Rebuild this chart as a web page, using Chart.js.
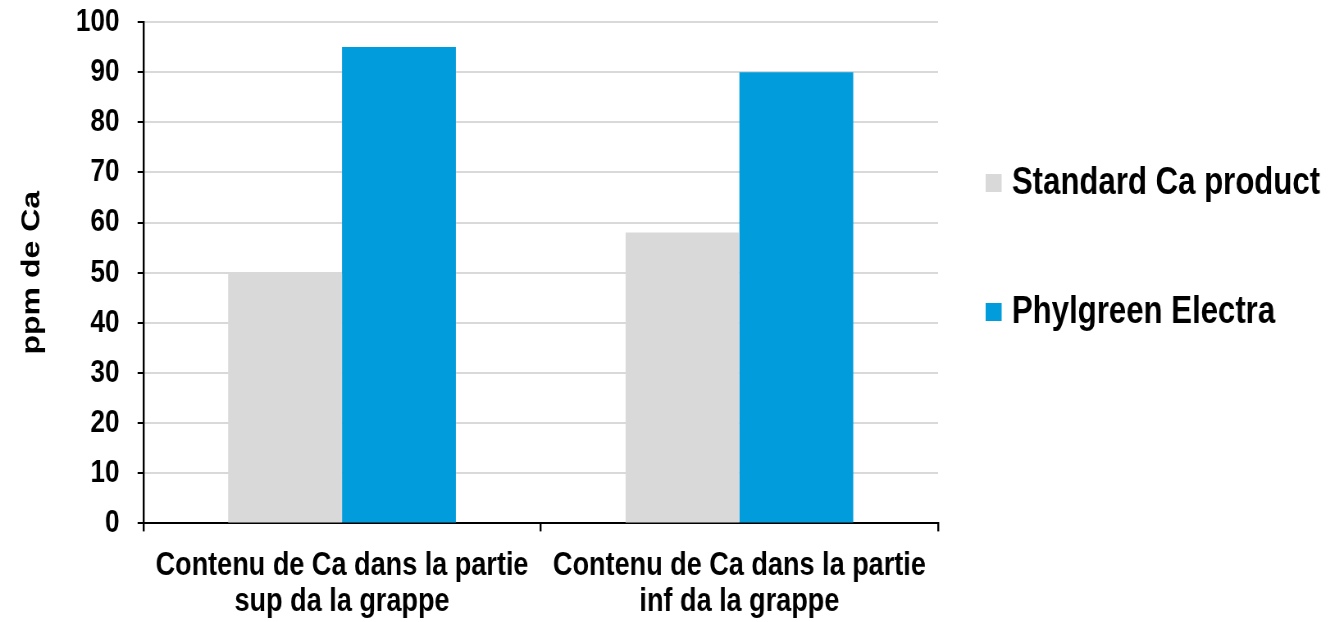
<!DOCTYPE html>
<html>
<head>
<meta charset="utf-8">
<script src="https://cdn.jsdelivr.net/npm/chart.js@4.4.0/dist/chart.umd.min.js"></script>
<style>
  html, body { margin: 0; padding: 0; background: #fff; overflow: hidden; }
  /* the reference is squeezed sideways: draw wider, then scale down in x */
  #wrap { width: 1639px; height: 622px; position: relative; transform: scaleX(0.82); transform-origin: 0 0; }
</style>
</head>
<body>
<div id="wrap"><canvas id="caChart"></canvas></div>
<script>
const categories = [
    ['Contenu de Ca dans la partie', 'sup da la grappe'],
    ['Contenu de Ca dans la partie', 'inf da la grappe']
];
const seriesNames = ['Standard Ca product', 'Phylgreen Electra'];
const standardValues = [50, 58];
const electraValues = [95, 90];
const yTicks = [0, 10, 20, 30, 40, 50, 60, 70, 80, 90, 100];
const yTitle = 'ppm de Ca';

const FONT = "'Liberation Sans', Arial, sans-serif";

// legend drawn by hand, on the right side of the plot
const sideLegend = {
    id: 'sideLegend',
    afterDraw(chart) {
        const ctx = chart.ctx;
        const x = chart.chartArea.right + 58;
        ctx.save();
        ctx.font = "bold 38px " + FONT;
        ctx.textBaseline = 'middle';
        chart.data.datasets.forEach((ds, i) => {
            const y = 183 + i * 129;
            ctx.fillStyle = ds.backgroundColor;
            ctx.fillRect(x, y - 9, 19.5, 18);
            ctx.fillStyle = '#000';
            ctx.fillText(ds.label, x + 32, y + 1);
        });
        ctx.restore();
    }
};

document.addEventListener('DOMContentLoaded', () => {
    const ctx = document.getElementById('caChart').getContext('2d');
    Chart.defaults.font.family = FONT;
    Chart.defaults.font.weight = 'bold';
    Chart.defaults.color = '#000';

    new Chart(ctx, {
        type: 'bar',
        data: {
            labels: categories,
            datasets: [{
                label: seriesNames[0],
                data: standardValues,
                backgroundColor: '#d9d9d9'
            }, {
                label: seriesNames[1],
                data: electraValues,
                backgroundColor: '#009cdc'
            }]
        },
        options: {
            responsive: true,
            maintainAspectRatio: false,
            animation: false,
            categoryPercentage: 0.573,
            barPercentage: 1.0,
            layout: {
                padding: { top: 0, right: 495, bottom: -14, left: 16 }
            },
            plugins: {
                legend: { display: false },
                tooltip: { enabled: false }
            },
            scales: {
                x: {
                    grid: {
                        offset: true,
                        drawOnChartArea: false,
                        color: '#000',
                        lineWidth: 2.4,
                        tickLength: 8
                    },
                    border: { color: '#000', width: 2 },
                    ticks: {
                        font: { size: 33, weight: 'bold', lineHeight: 1.1 },
                        padding: 16,
                        maxRotation: 0,
                        autoSkip: false
                    }
                },
                y: {
                    min: yTicks[0],
                    max: yTicks[yTicks.length - 1],
                    afterBuildTicks: (axis) => { axis.ticks = yTicks.map(v => ({ value: v })); },
                    // tick padding would otherwise push the plot top down
                    afterFit: (axis) => { axis.paddingTop = 22; },
                    grid: {
                        color: '#d9d9d9',
                        lineWidth: 2,
                        tickColor: '#000',
                        tickLength: 7
                    },
                    border: { color: '#000', width: 2.4 },
                    ticks: {
                        font: { size: 32, weight: 'bold' },
                        padding: 22
                    },
                    title: {
                        display: true,
                        text: yTitle,
                        font: { size: 32, weight: 'bold' },
                        padding: { top: 4, bottom: 12 }
                    }
                }
            }
        },
        plugins: [sideLegend]
    });
});
</script>
</body>
</html>
